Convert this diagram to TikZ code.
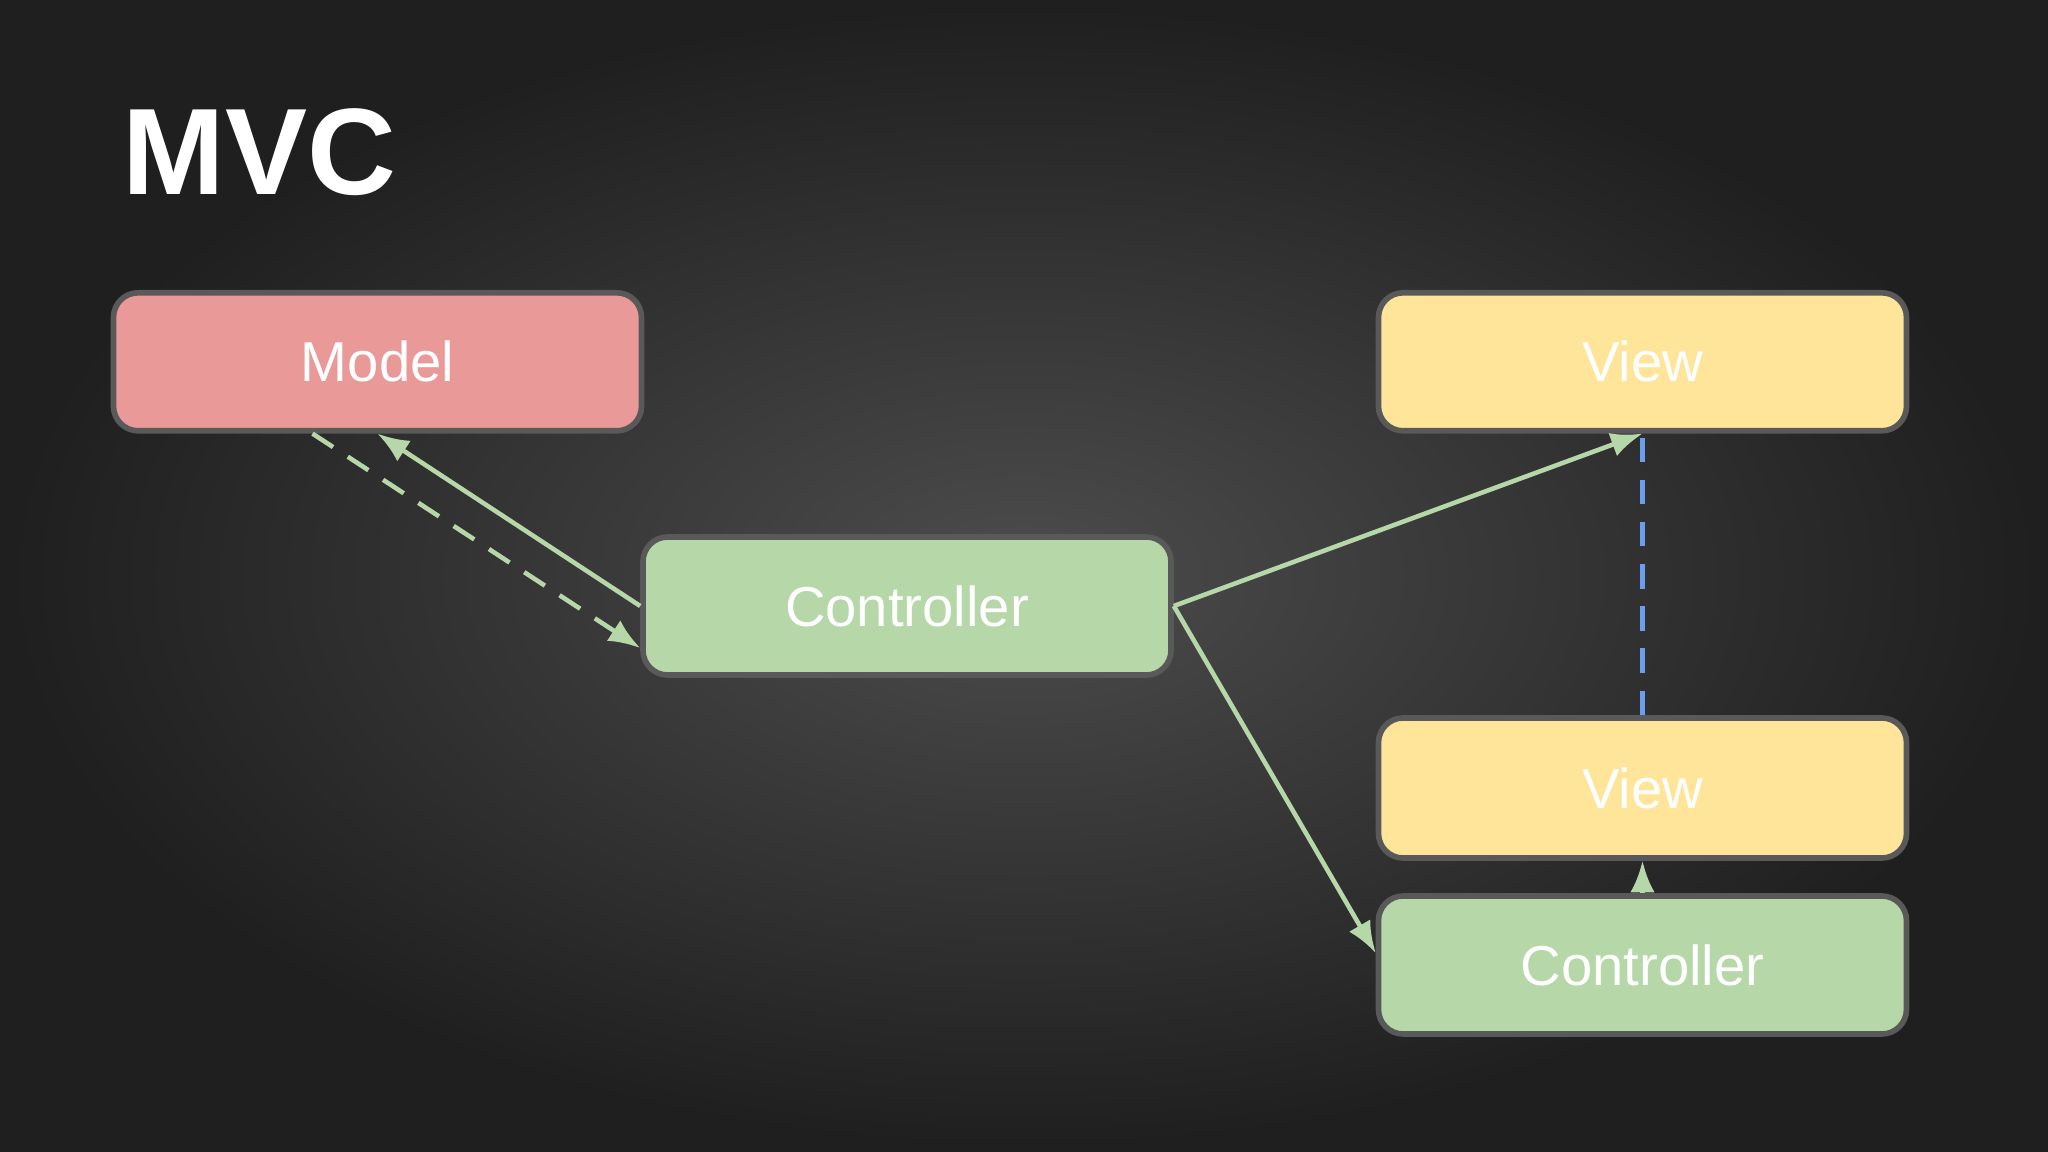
\documentclass[tikz,border=0pt]{standalone}
\usepackage{fontspec}
\setmainfont{Liberation Sans}
\usetikzlibrary{arrows.meta}
\definecolor{mred}{HTML}{EA9999}
\definecolor{mgreen}{HTML}{B6D7A8}
\definecolor{myellow}{HTML}{FFE599}
\definecolor{mblue}{HTML}{6D9EEB}
\definecolor{mborder}{HTML}{595959}
\tikzset{
  box/.style={draw=mborder, line width=1.6pt, rounded corners=7pt, minimum width=5.28cm, minimum height=1.38cm, text=white, font=\fontsize{16}{18}\selectfont},
  conn/.style={draw=mgreen, line width=1.3pt, -{Latex[length=9pt,width=7pt]}},
}
\begin{document}
\begin{tikzpicture}
\useasboundingbox (0,0) rectangle (20.48,-11.52);
\shade[inner color=black!70!white, outer color=black!88!white] (0,0) rectangle (20.48,-11.52);
\node[anchor=north west, text=white, font=\bfseries\fontsize{35}{40}\selectfont, inner sep=0pt] (title) at (1.22,-1.08) {MVC};
\node[box, fill=mred] (model) at (3.775,-3.618) {Model};
\node[box, fill=mgreen] (ctrl) at (9.07,-6.06) {Controller};
\node[box, fill=myellow] (view1) at (16.425,-3.618) {View};
\node[box, fill=myellow, minimum height=1.40cm] (view2) at (16.425,-7.88) {View};
\node[box, fill=mgreen] (ctrl2) at (16.425,-9.65) {Controller};
\draw[conn] (ctrl.west) -- (model.south);
\draw[conn, dashed, dash pattern=on 7pt off 5pt] ([xshift=-0.65cm]model.south) -- ([yshift=-0.42cm]ctrl.west);
\draw[conn] (ctrl.east) -- (view1.south);
\draw[conn] (ctrl.east) -- ([yshift=0.12cm]ctrl2.west);
\draw[mblue, line width=1.3pt, dashed, dash pattern=on 7pt off 5pt] (view2.north) -- (view1.south);
\draw[conn] (ctrl2.north) -- (view2.south);
\end{tikzpicture}
\end{document}
